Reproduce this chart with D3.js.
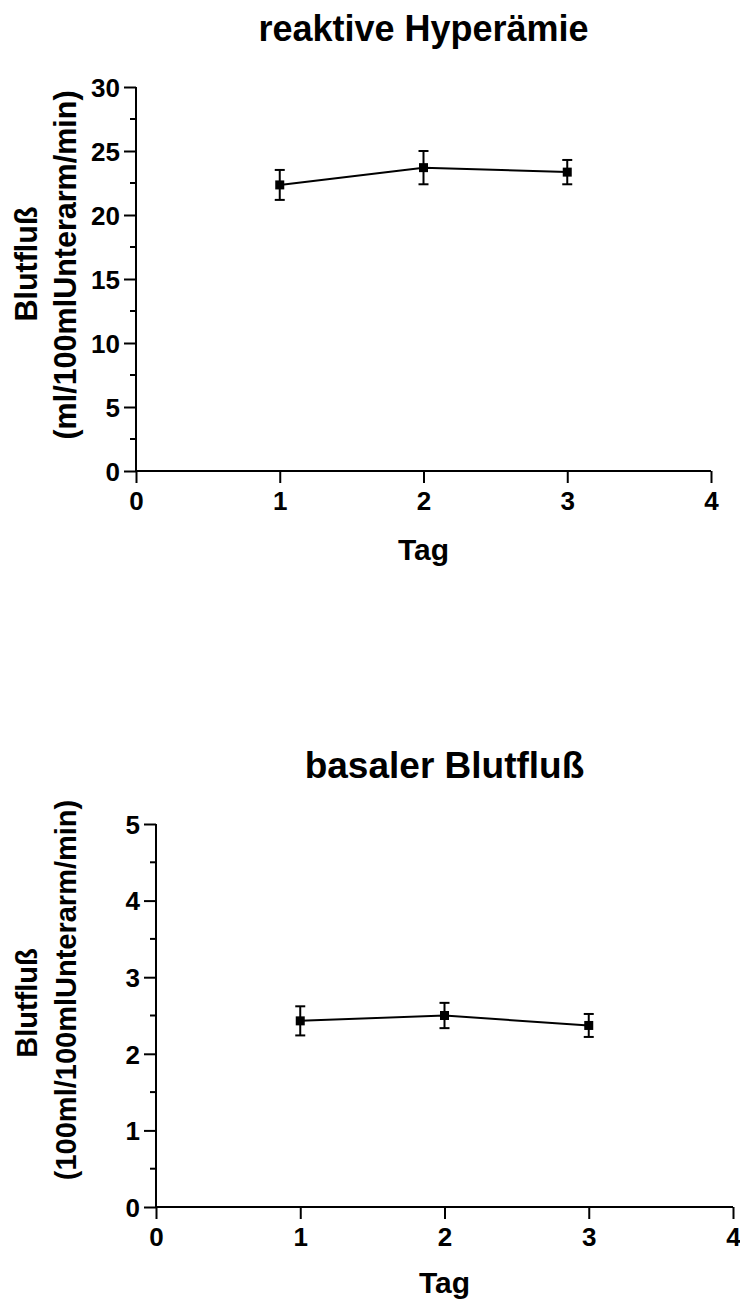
<!DOCTYPE html>
<html><head><meta charset="utf-8">
<script src="https://cdn.jsdelivr.net/npm/d3@7"></script>
<style>body{margin:0;background:#fff}svg{display:block}text{font-family:"Liberation Sans",Arial,sans-serif;font-weight:bold;fill:#000}</style>
</head><body>
<script>
// Data
const days = [1, 2, 3];
const hyperMean = [22.35, 23.7, 23.35];
const hyperSem = [1.17, 1.3, 0.95];
const basalMean = [2.43, 2.50, 2.37];
const basalSem = [0.19, 0.165, 0.15];
const xTicks = [0, 1, 2, 3, 4];
const hyperYTicks = [0, 5, 10, 15, 20, 25, 30];
const basalYTicks = [0, 1, 2, 3, 4, 5];

const svg = d3.select("body").append("svg").attr("width", 740).attr("height", 1304);

function panel(cfg) {
  const g = svg.append("g");
  const x = d3.scaleLinear().domain([0, 4]).range([cfg.x0, cfg.x1]);
  const y = d3.scaleLinear().domain([0, cfg.ymax]).range([cfg.y0, cfg.y1]);
  const yAxis = d3.axisLeft(y).tickValues(cfg.yTicks).tickSize(12).tickPadding(4).tickFormat(d3.format("d"));
  const ya = g.append("g").attr("transform", `translate(${cfg.x0},0)`).call(yAxis);
  ya.attr("font-family", null).attr("font-size", null);
  ya.selectAll(".tick line").attr("stroke-width", 2);
  ya.select(".domain").attr("stroke-width", 2).attr("d", `M0,${cfg.y0+1}V${cfg.y1}`);
  ya.selectAll("text").attr("font-size", 26).attr("dy", "0.36em");
  const minor = d3.range(cfg.minorStep / 2, cfg.ymax, cfg.minorStep);
  g.selectAll(".minor").data(minor).join("line")
    .attr("x1", cfg.x0 - 6).attr("x2", cfg.x0)
    .attr("y1", d => y(d)).attr("y2", d => y(d))
    .attr("stroke", "#000").attr("stroke-width", 2);
  const xAxis = d3.axisBottom(x).tickValues(xTicks).tickSize(12).tickPadding(8).tickFormat(d3.format("d"));
  const xa = g.append("g").attr("transform", `translate(0,${cfg.y0})`).call(xAxis);
  xa.attr("font-family", null).attr("font-size", null);
  xa.selectAll(".tick line").attr("stroke-width", 2);
  xa.select(".domain").attr("stroke-width", 2).attr("d", `M${cfg.x0-1},0H${cfg.x1}`);
  xa.selectAll("text").attr("font-size", 26).attr("dy", "0.72em");
  g.selectAll(".domain, .tick line").attr("stroke", "#000");

  // line
  const line = d3.line().x((d, i) => x(days[i])).y(d => y(d));
  g.append("path").datum(cfg.mean).attr("d", line).attr("fill", "none").attr("stroke", "#000").attr("stroke-width", 2);
  // error bars
  const eb = g.selectAll(".eb").data(cfg.mean).join("g");
  eb.append("line").attr("x1", (d, i) => x(days[i])).attr("x2", (d, i) => x(days[i]))
    .attr("y1", (d, i) => y(d + cfg.sem[i])).attr("y2", (d, i) => y(d - cfg.sem[i]))
    .attr("stroke", "#000").attr("stroke-width", 2);
  eb.append("line").attr("x1", (d, i) => x(days[i]) - 5).attr("x2", (d, i) => x(days[i]) + 5)
    .attr("y1", (d, i) => y(d + cfg.sem[i])).attr("y2", (d, i) => y(d + cfg.sem[i]))
    .attr("stroke", "#000").attr("stroke-width", 2);
  eb.append("line").attr("x1", (d, i) => x(days[i]) - 5).attr("x2", (d, i) => x(days[i]) + 5)
    .attr("y1", (d, i) => y(d - cfg.sem[i])).attr("y2", (d, i) => y(d - cfg.sem[i]))
    .attr("stroke", "#000").attr("stroke-width", 2);
  eb.append("rect").attr("x", (d, i) => x(days[i]) - 4.5).attr("y", d => y(d) - 4.5)
    .attr("width", 9).attr("height", 9).attr("fill", "#000");

  // titles
  const cx = (cfg.x0 + cfg.x1) / 2;
  g.append("text").attr("x", cx).attr("y", cfg.titleY).attr("text-anchor", "middle").attr("font-size", cfg.titleFs).text(cfg.title);
  g.append("text").attr("x", cx).attr("y", cfg.xTitleY).attr("text-anchor", "middle").attr("font-size", 30).text("Tag");
  g.append("text").attr("transform", `translate(37,${cfg.t1c}) rotate(-90)`).attr("text-anchor", "middle").attr("font-size", cfg.ytfs).text("Blutfluß");
  g.append("text").attr("transform", `translate(76,${cfg.t2c}) rotate(-90)`).attr("text-anchor", "middle").attr("font-size", cfg.ytfs).text(cfg.yTitle2);
}

panel({x0: 136, x1: 711, y0: 471, y1: 87, ymax: 30, yTicks: hyperYTicks, minorStep: 5,
  mean: hyperMean, sem: hyperSem, title: "reaktive Hyperämie", titleFs: 36, titleY: 41, xTitleY: 560,
  yTitle2: "(ml/100mlUnterarm/min)", t1c: 264, t2c: 265, ytfs: 30.5});
panel({x0: 156, x1: 733, y0: 1207, y1: 824, ymax: 5, yTicks: basalYTicks, minorStep: 1,
  mean: basalMean, sem: basalSem, title: "basaler Blutfluß", titleFs: 37, titleY: 778, xTitleY: 1293,
  yTitle2: "(100ml/100mlUnterarm/min)", t1c: 1003, t2c: 990, ytfs: 29});
</script>
</body></html>
